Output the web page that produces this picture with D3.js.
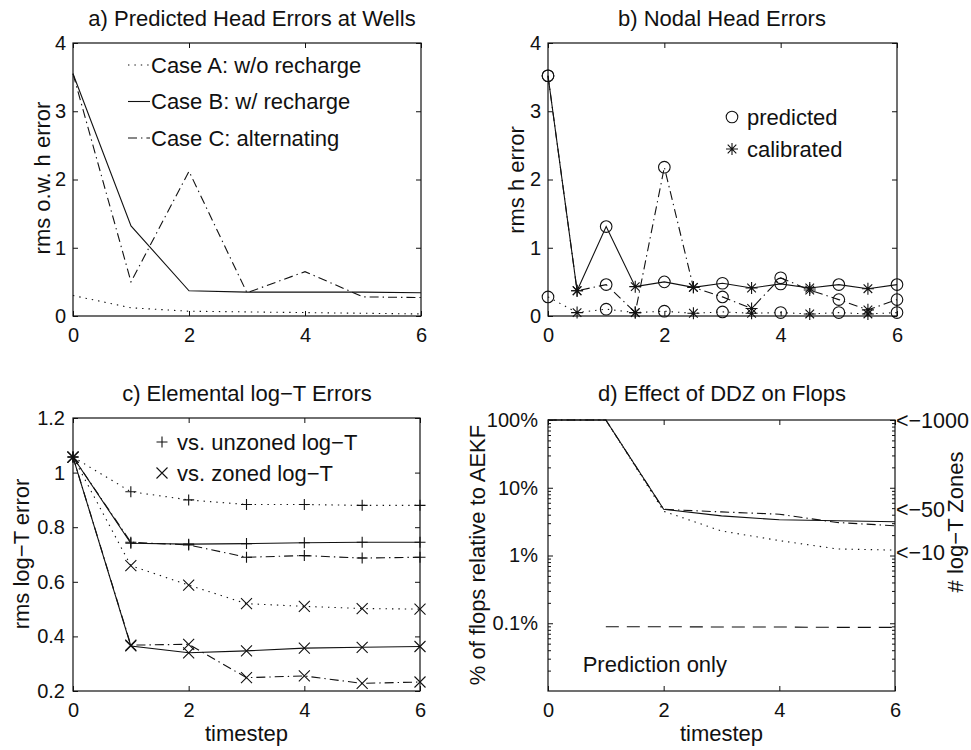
<!DOCTYPE html>
<html>
<head>
<meta charset="utf-8">
<script src="https://cdn.jsdelivr.net/npm/d3@7"></script>
<style>
  body { margin: 0; background: #fff; }
  svg { font-family: "Liberation Sans", Arial, Helvetica, sans-serif; }
</style>
</head>
<body>
<div id="chart"></div>
<script>
// ---- data ----
var tSteps = [0, 1, 2, 3, 4, 5, 6];
var tHalf = [0, 0.5, 1, 1.5, 2, 2.5, 3, 3.5, 4, 4.5, 5, 5.5, 6];
var caseNames = ["Case A: w/o recharge", "Case B: w/ recharge", "Case C: alternating"];

// a) rms observation-well head error
var wellA = [0.30, 0.12, 0.07, 0.06, 0.05, 0.04, 0.03];
var wellB = [3.55, 1.32, 0.37, 0.35, 0.35, 0.35, 0.34];
var wellC = [3.55, 0.50, 2.12, 0.34, 0.65, 0.28, 0.27];

// b) nodal head error (predicted at integer steps, calibrated at half steps)
var nodalA = [0.28, 0.05, 0.10, 0.05, 0.07, 0.04, 0.06, 0.04, 0.05, 0.03, 0.05, 0.03, 0.05];
var nodalB = [3.52, 0.37, 1.31, 0.43, 0.50, 0.42, 0.48, 0.41, 0.47, 0.41, 0.46, 0.40, 0.46];
var nodalC = [3.52, 0.37, 0.46, 0.05, 2.18, 0.42, 0.28, 0.11, 0.56, 0.38, 0.24, 0.09, 0.24];

// c) elemental log-T error
var unzonedA = [1.057, 0.93, 0.90, 0.883, 0.883, 0.88, 0.88];
var unzonedB = [1.057, 0.741, 0.738, 0.74, 0.743, 0.745, 0.745];
var unzonedC = [1.057, 0.745, 0.735, 0.69, 0.696, 0.687, 0.69];
var zonedA = [1.057, 0.659, 0.588, 0.52, 0.51, 0.502, 0.50];
var zonedB = [1.057, 0.365, 0.34, 0.347, 0.357, 0.36, 0.363];
var zonedC = [1.057, 0.368, 0.371, 0.249, 0.255, 0.228, 0.233];

// d) flops relative to AEKF (%)
var flopsA = [100, 100, 4.5, 2.3, 1.66, 1.25, 1.2];
var flopsB = [100, 100, 4.8, 3.85, 3.37, 3.25, 3.15];
var flopsC = [100, 100, 4.8, 4.4, 4.07, 3.07, 2.75];
var predSteps = [1, 2, 3, 4, 5, 6];
var predOnly = [0.089, 0.089, 0.088, 0.088, 0.087, 0.087];
var zoneLabels = ["<\u22121000", "<\u221250", "<\u221210"];
var zoneLevels = [100, 4.8, 1.1];

// tick labels
var xTicks = [0, 2, 4, 6];
var headTicks = [0, 1, 2, 3, 4];
var logTTicks = [0.2, 0.4, 0.6, 0.8, 1, 1.2];
var flopTicks = [100, 10, 1, 0.1];
var flopTickLabels = ["100%", "10%", "1%", "0.1%"];

// ---- drawing ----
var W = 971, H = 750;
var FS = 22;       // titles, labels, legends
var TICK_FS = 20;  // tick labels
var svg = d3.select("#chart").append("svg")
    .attr("width", W).attr("height", H);

var INK = "#111";
var styles = {
    dotted: "1.4,5",
    solid: null,
    dashdot: "9,4,1.4,4",
    dashed: "13,8"
};

// box with inward ticks on all four sides (matlab look)
function frame(x, y, xt, yt, ypad, yfmt) {
    var g = svg.append("g");
    var b = y.range()[0], t = y.range()[1], l = x.range()[0], r = x.range()[1];

    g.append("g").attr("transform", "translate(0," + b + ")")
        .call(d3.axisBottom(x).tickValues(xt).tickSizeInner(-5).tickSizeOuter(0).tickPadding(12)
              .tickFormat(d3.format("d")));
    g.append("g").attr("transform", "translate(0," + t + ")")
        .call(d3.axisTop(x).tickValues(xt).tickSizeInner(-5).tickSizeOuter(0).tickFormat(""));
    g.append("g").attr("transform", "translate(" + l + ",0)")
        .call(d3.axisLeft(y).tickValues(yt).tickSizeInner(-5).tickSizeOuter(0).tickPadding(ypad)
              .tickFormat(yfmt));
    g.append("g").attr("transform", "translate(" + r + ",0)")
        .call(d3.axisRight(y).tickValues(yt).tickSizeInner(-5).tickSizeOuter(0).tickFormat(""));

    g.selectAll(".domain").remove();
    g.selectAll(".tick line").attr("stroke", INK);
    g.selectAll(".tick text").attr("font-size", TICK_FS).attr("fill", INK);

    g.append("rect")
        .attr("x", l).attr("y", t)
        .attr("width", r - l).attr("height", b - t)
        .attr("fill", "none").attr("stroke", INK).attr("stroke-width", 1.2);
    return g;
}

function label(x, y, txt, anchor) {
    return svg.append("text").attr("x", x).attr("y", y)
        .attr("text-anchor", anchor || "start")
        .attr("font-size", FS).attr("fill", INK)
        .text(txt);
}

function ylabel(txt, x, cy) {
    svg.append("text")
        .attr("transform", "translate(" + x + "," + cy + ") rotate(-90)")
        .attr("text-anchor", "middle").attr("dy", "0.35em")
        .attr("font-size", FS).attr("fill", INK)
        .text(txt);
}

function series(x, y, xs, ys, style) {
    var line = d3.line()
        .x(function(d) { return x(d[0]); })
        .y(function(d) { return y(d[1]); });
    svg.append("path")
        .datum(d3.zip(xs, ys))
        .attr("d", line)
        .attr("fill", "none")
        .attr("stroke", INK)
        .attr("stroke-width", 1.1)
        .attr("stroke-dasharray", styles[style]);
}

// marker shapes as paths centred on 0,0
function markerPath(kind) {
    var s;
    if (kind == "circle") {
        s = 5.8;
        return "M" + s + ",0A" + s + "," + s + " 0 1,1 " + (-s) + ",0A" + s + "," + s + " 0 1,1 " + s + ",0";
    }
    if (kind == "plus") {
        s = 5.5;
        return "M" + (-s) + ",0H" + s + "M0," + (-s) + "V" + s;
    }
    if (kind == "cross") {
        s = 5.5;
        return "M" + (-s) + "," + (-s) + "L" + s + "," + s + "M" + (-s) + "," + s + "L" + s + "," + (-s);
    }
    // asterisk
    s = 6;
    var d = 4.3;
    return "M" + (-s) + ",0H" + s + "M0," + (-s) + "V" + s +
        "M" + (-d) + "," + (-d) + "L" + d + "," + d + "M" + (-d) + "," + d + "L" + d + "," + (-d);
}

function markers(x, y, xs, ys, kindFn) {
    svg.append("g").selectAll("path")
        .data(d3.zip(xs, ys))
        .enter()
        .append("path")
        .attr("transform", function(d) { return "translate(" + x(d[0]) + "," + y(d[1]) + ")"; })
        .attr("d", function(d, i) { return markerPath(kindFn(i)); })
        .attr("fill", "none")
        .attr("stroke", INK)
        .attr("stroke-width", 1.1);
}

function legendMarker(kind, x, y, txt, tx) {
    svg.append("path").attr("transform", "translate(" + x + "," + y + ")").attr("d", markerPath(kind))
        .attr("fill", "none").attr("stroke", INK).attr("stroke-width", 1.1);
    label(tx, y, txt).attr("dy", "0.35em");
}

// ---------- a) Predicted Head Errors at Wells ----------
var xa = d3.scaleLinear().domain([0, 6]).range([73, 421]);
var ya = d3.scaleLinear().domain([0, 4]).range([316, 43]);
frame(xa, ya, xTicks, headTicks, 7, d3.format("d"));
series(xa, ya, tSteps, wellA, "dotted");
series(xa, ya, tSteps, wellB, "solid");
series(xa, ya, tSteps, wellC, "dashdot");
label(252, 26, "a) Predicted Head Errors at Wells", "middle");
ylabel("rms o.w. h error", 42, 178);

var legStyles = ["dotted", "solid", "dashdot"];
caseNames.forEach(function(name, i) {
    var yy = 65 + i * 36.5;
    svg.append("line")
        .attr("x1", 128).attr("x2", 150).attr("y1", yy).attr("y2", yy)
        .attr("stroke", INK).attr("stroke-width", 1.1)
        .attr("stroke-dasharray", styles[legStyles[i]]);
    label(151, yy, name).attr("dy", "0.35em");
});

// ---------- b) Nodal Head Errors ----------
var xb = d3.scaleLinear().domain([0, 6]).range([548, 897]);
var yb = d3.scaleLinear().domain([0, 4]).range([316, 43]);
frame(xb, yb, xTicks, headTicks, 7, d3.format("d"));
var predOrCal = function(i) { return i % 2 == 0 ? "circle" : "asterisk"; };
[[nodalA, "dotted"], [nodalB, "solid"], [nodalC, "dashdot"]].forEach(function(s) {
    series(xb, yb, tHalf, s[0], s[1]);
    markers(xb, yb, tHalf, s[0], predOrCal);
});
label(722, 26, "b) Nodal Head Errors", "middle");
ylabel("rms h error", 516, 180);
legendMarker("circle", 732, 117, "predicted", 747);
legendMarker("asterisk", 732, 149, "calibrated", 747);

// ---------- c) Elemental log-T Errors ----------
var xc = d3.scaleLinear().domain([0, 6]).range([73, 420]);
var yc = d3.scaleLinear().domain([0.2, 1.2]).range([691, 418]);
frame(xc, yc, xTicks, logTTicks, 8, function(d) { return d3.format("")(+d.toFixed(1)); });
[[unzonedA, "dotted", "plus"], [unzonedB, "solid", "plus"], [unzonedC, "dashdot", "plus"],
 [zonedA, "dotted", "cross"], [zonedB, "solid", "cross"], [zonedC, "dashdot", "cross"]].forEach(function(s) {
    series(xc, yc, tSteps, s[0], s[1]);
    markers(xc, yc, tSteps, s[0], function() { return s[2]; });
});
label(247, 401, "c) Elemental log\u2212T Errors", "middle");
ylabel("rms log\u2212T error", 21, 554);
label(xc(3), 741, "timestep", "middle");
legendMarker("plus", 162, 442, "vs. unzoned log\u2212T", 177);
legendMarker("cross", 162, 473, "vs. zoned log\u2212T", 177);

// ---------- d) Effect of DDZ on Flops ----------
var xd = d3.scaleLinear().domain([0, 6]).range([548, 895]);
var yd = d3.scaleLog().domain([0.01, 100]).range([691, 420]);
frame(xd, yd, xTicks, flopTicks, 10, function(d) { return flopTickLabels[flopTicks.indexOf(d)]; });

// minor log ticks on both sides
var minor = [];
[0.01, 0.1, 1, 10].forEach(function(dec) {
    for (var k = 2; k <= 9; k++) minor.push(dec * k);
});
var mg = svg.append("g");
mg.append("g").attr("transform", "translate(548,0)")
    .call(d3.axisLeft(yd).tickValues(minor).tickSizeInner(-3).tickSizeOuter(0).tickFormat(""));
mg.append("g").attr("transform", "translate(895,0)")
    .call(d3.axisRight(yd).tickValues(minor).tickSizeInner(-3).tickSizeOuter(0).tickFormat(""));
mg.selectAll(".domain").remove();
mg.selectAll(".tick line").attr("stroke", INK);

series(xd, yd, tSteps, flopsA, "dotted");
series(xd, yd, tSteps, flopsB, "solid");
series(xd, yd, tSteps, flopsC, "dashdot");
series(xd, yd, predSteps, predOnly, "dashed");

label(xd(0.6), yd(0.025), "Prediction only").attr("dy", "0.35em");

svg.selectAll(".zone")
    .data(zoneLabels)
    .enter()
    .append("text")
    .attr("x", 896)
    .attr("y", function(d, i) { return yd(zoneLevels[i]); })
    .attr("dy", "0.35em")
    .attr("font-size", 21.5).attr("fill", INK)
    .text(function(d) { return d; });

label(722, 401, "d) Effect of DDZ on Flops", "middle");
ylabel("% of flops relative to AEKF", 477, 555);
ylabel("# log\u2212T Zones", 955, 522);
label(xd(3), 741, "timestep", "middle");
</script>
</body>
</html>
